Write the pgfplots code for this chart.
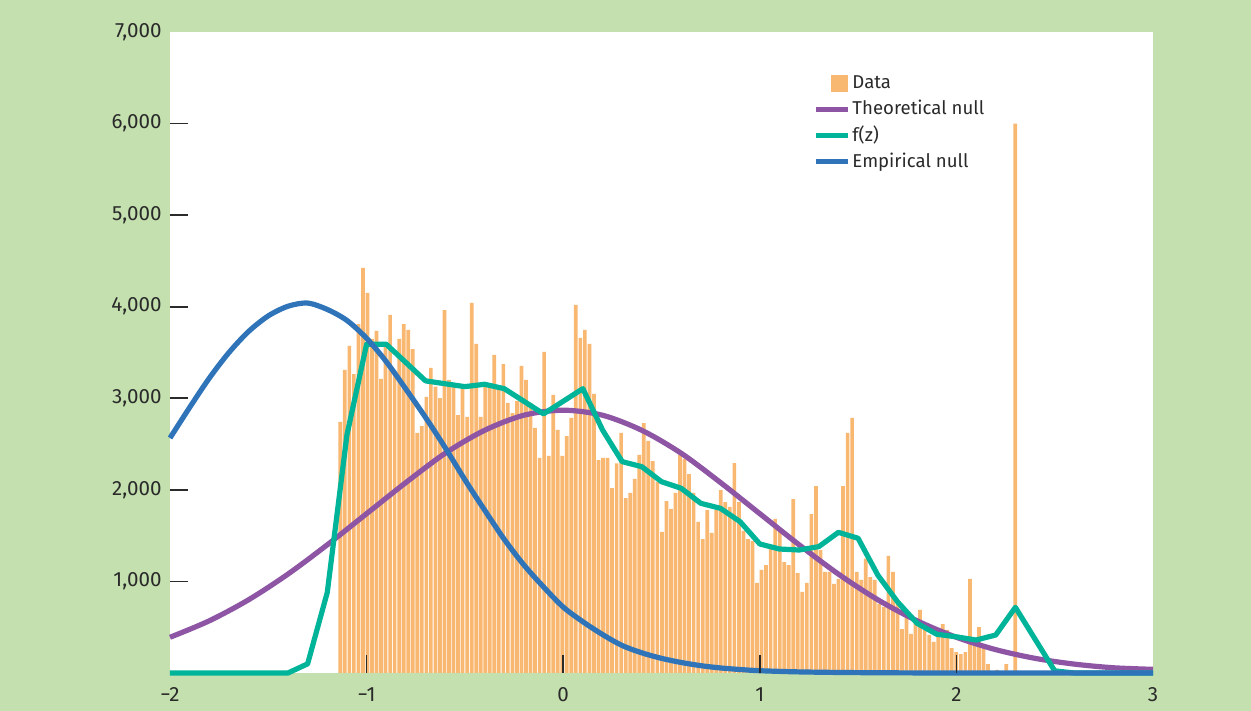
\documentclass[border=0pt]{standalone}
\usepackage{fontspec}
\setmainfont{Fira Sans}
\usepackage{pgfplots}
\usepackage{pgfplotstable}
\pgfplotsset{compat=1.18}
\definecolor{bg}{HTML}{C3E0AE}
\definecolor{barc}{HTML}{F9B871}
\definecolor{purp}{HTML}{8D55A4}
\definecolor{tealc}{HTML}{00B49A}
\definecolor{bluec}{HTML}{2F74B9}
\definecolor{txt}{HTML}{2A2A2A}

\pgfplotstableread{
k v
0 2741
1 3309
2 3571
3 3265
4 3811
5 4423
6 4150
7 3650
8 3735
9 3211
10 3600
11 3910
12 3298
13 3650
14 3811
15 3746
16 3538
17 2621
18 2697
19 3014
20 3331
21 3127
22 3003
23 3964
24 3200
25 3150
26 2817
27 3150
28 2796
29 4041
30 3593
31 2796
32 3130
33 3130
34 3473
35 3100
36 3374
37 2949
38 2839
39 2970
40 3353
41 3200
42 2950
43 2676
44 2348
45 3506
46 2370
47 3036
48 2654
49 2370
50 2588
51 2785
52 4019
53 3659
54 3746
55 3593
56 3047
57 2326
58 2348
59 2348
60 2020
61 2290
62 2621
63 1911
64 1966
65 2119
66 2381
67 2730
68 2534
69 2315
70 2086
71 1540
72 1878
73 1791
74 1966
75 2381
76 2337
77 2173
78 1966
79 1649
80 1463
81 1780
82 1529
83 1780
84 1998
85 1867
86 1813
87 2293
88 1867
89 1551
90 1463
91 1441
92 983
93 1125
94 1179
95 1354
96 1682
97 1573
98 1212
99 1179
100 1900
101 1092
102 885
103 983
104 1736
105 2042
106 1343
107 1103
108 1103
109 972
110 1027
111 2042
112 2621
113 2785
114 1103
115 1016
116 1250
117 1048
118 1016
119 754
120 721
121 1278
122 1103
123 754
124 480
125 601
126 426
127 557
128 688
129 470
130 415
131 339
132 415
133 535
134 470
135 273
136 229
137 207
138 229
139 1027
140 371
141 502
142 273
143 98
144 0
145 33
146 0
147 98
148 0
149 6000
}\bars

\begin{document}
\begin{tikzpicture}
\fill[bg] (-85pt,-19pt) rectangle (540.5pt,336.5pt);
\begin{axis}[
  at={(0pt,0pt)}, anchor=south west, scale only axis,
  width=491.5pt, height=320.5pt,
  xmin=-2, xmax=3, ymin=0, ymax=7000,
  clip=false,
  axis on top,
  axis background/.style={fill=white},
  axis line style={draw=none},
  xtick pos=bottom, ytick pos=left,
  tick align=inside,
  major tick length=9pt,
  tick style={color=txt, line width=0.8pt},
  xtick={-1,0,1,2}, xticklabels={−1,0,1,2},
  extra x ticks={-2,3}, extra x tick labels={−2,3},
  extra x tick style={major tick length=0pt},
  ytick={1000,2000,3000,4000,5000,6000},
  extra y ticks={7000},
  extra y tick style={major tick length=0pt},
  /pgf/number format/assume math mode=true,
  /pgf/number format/1000 sep={,},
  ticklabel style={font=\fontsize{10.3}{12}\selectfont, text=txt},
  xticklabel style={anchor=base, inner sep=0pt, yshift=-14pt},
  yticklabel style={anchor=east, inner sep=0pt, xshift=-4pt},
  legend style={at={(rel axis cs:0.654,0.937)}, anchor=north west,
    draw=none, fill=none, inner sep=0pt, row sep=2.6pt,
    font=\fontsize{9.3}{11}\selectfont, text=txt,
    nodes={inner sep=1pt, text height=7pt, text depth=1.5pt},
    /tikz/every even column/.append style={column sep=2.5pt}},
  legend cell align=left,
  legend image code/.code={\draw[#1, line width=2.6pt] (0pt,0pt) -- (16pt,0pt);},
]
\addplot[ybar, bar width=0.0188, bar shift=0pt, fill=barc, draw=none,
  legend image code/.code={\fill[barc] (7.5pt,-4.25pt) rectangle (16pt,4.25pt);}]
  table[x expr=\thisrow{k}*0.02304-1.1338, y=v] {\bars};
\addlegendentry{Data}

\addplot[purp, line width=2.6pt, smooth] coordinates {
(-2.0,390) (-1.8,570) (-1.6,800) (-1.4,1080) (-1.2,1400) (-1.0,1740)
(-0.8,2080) (-0.6,2400) (-0.4,2650) (-0.2,2815) (0,2870) (0.2,2815)
(0.4,2650) (0.6,2400) (0.8,2080) (1.0,1740) (1.2,1400) (1.4,1080)
(1.6,800) (1.8,570) (2.0,390) (2.2,255) (2.4,160) (2.6,97) (2.8,57) (3.0,40)};
\addlegendentry{Theoretical null}

\addplot[tealc, line width=2.6pt, line join=round] coordinates {
(-2.0,0) (-1.4,0) (-1.3,100) (-1.2,880) (-1.1,2600) (-1.0,3590) (-0.9,3590)
(-0.7,3190) (-0.5,3127) (-0.4,3153) (-0.3,3105) (-0.1,2830) (0.1,3105)
(0.2,2654) (0.3,2308) (0.4,2253) (0.5,2089) (0.6,2017) (0.7,1853) (0.8,1798)
(0.9,1652) (1.0,1409) (1.1,1354) (1.2,1343) (1.3,1380) (1.4,1536) (1.5,1471)
(1.6,1070) (1.7,779) (1.8,543) (1.9,423) (2.0,395) (2.1,360) (2.2,415)
(2.3,717) (2.5,23) (2.6,0) (3.0,0)};
\addlegendentry{f(z)}

\addplot[bluec, line width=2.6pt, smooth] coordinates {
(-2.0,2566) (-1.9,2900) (-1.8,3220) (-1.7,3500) (-1.6,3730) (-1.5,3900)
(-1.4,4005) (-1.3,4040) (-1.2,3970) (-1.1,3850) (-1.0,3655) (-0.9,3400)
(-0.8,3100) (-0.7,2790) (-0.6,2460) (-0.5,2110) (-0.4,1780) (-0.3,1460)
(-0.2,1180) (-0.1,940) (0.0,720) (0.1,560) (0.2,420) (0.3,300) (0.4,220)
(0.5,160) (0.6,115) (0.7,80) (0.8,55) (0.9,38) (1.0,25) (1.2,12) (1.5,4)
(2.0,0) (3.0,0)};
\addlegendentry{Empirical null}
\end{axis}
\end{tikzpicture}
\end{document}
